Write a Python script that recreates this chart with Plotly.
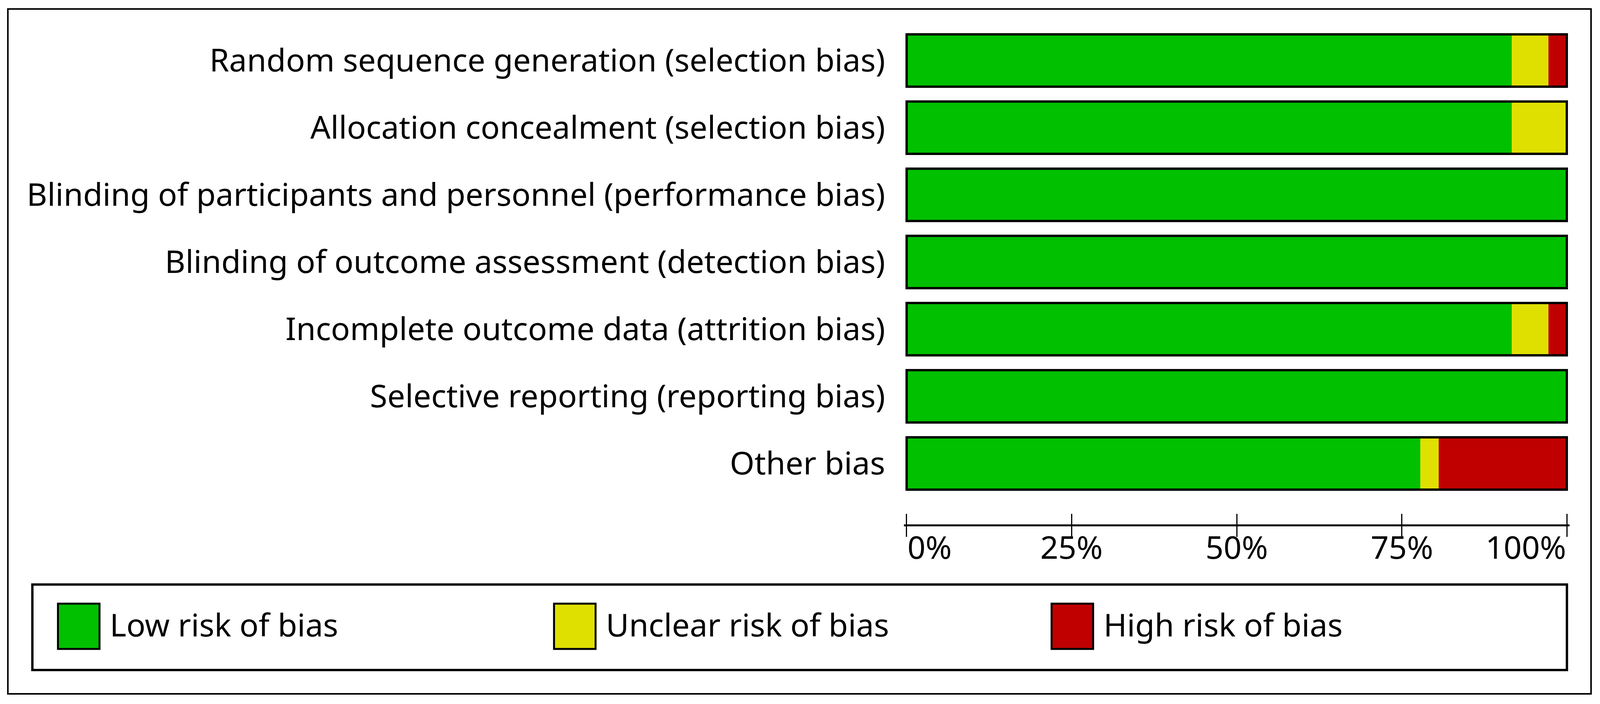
import plotly.graph_objects as go

# risk of bias summary, % of included studies
domains = [
    "Random sequence generation (selection bias)",
    "Allocation concealment (selection bias)",
    "Blinding of participants and personnel (performance bias)",
    "Blinding of outcome assessment (detection bias)",
    "Incomplete outcome data (attrition bias)",
    "Selective reporting (reporting bias)",
    "Other bias",
]
low_risk = [91.67, 91.67, 100, 100, 91.67, 100, 77.78]
unclear_risk = [5.56, 8.33, 0, 0, 5.56, 0, 2.78]
high_risk = [2.78, 0, 0, 0, 2.78, 0, 19.44]

tick_vals = [0, 25, 50, 75, 100]
tick_text = ["0%", "25%", "50%", "75%", "100%"]

legend_names = ["Low risk of bias", "Unclear risk of bias", "High risk of bias"]
legend_colors = ["#00C000", "#E0E000", "#C00000"]

# viewport is 4096x1803 with an 8px body margin; layout measured on a 4311 wide picture
SX = 4096 / 4311
OFF = 8
W, H = 4096 - OFF, 1803 - OFF
FONT = "Noto Sans"
FS = 81


def fx(x):
    return x * SX - OFF


def fy(y):
    return y - OFF


L = fx(2435)
R = W - fx(4229)
T = fy(69)
B = H - fy(1343)


def px(x):
    return (fx(x) - L) / (W - L - R)


def py(y):
    return (H - B - fy(y)) / (H - T - B)


fig = go.Figure()
for name, vals, color in zip(legend_names, [low_risk, unclear_risk, high_risk], legend_colors):
    fig.add_trace(go.Bar(
        y=domains, x=vals, name=name, orientation="h",
        marker=dict(color=color, line=dict(width=0)),
        width=0.78, showlegend=False,
    ))

# black outline round each whole bar
totals = [a + b + c for a, b, c in zip(low_risk, unclear_risk, high_risk)]
fig.add_trace(go.Bar(
    y=domains, x=totals, orientation="h", xaxis="x2", yaxis="y2",
    marker=dict(color="rgba(0,0,0,0)", line=dict(width=6, color="black")),
    width=0.78, showlegend=False, hoverinfo="skip",
))

yax = dict(type="category", categoryorder="array", categoryarray=domains,
           range=[6.907, -0.5], showgrid=False, zeroline=False, ticks="",
           showline=False)
fig.update_layout(
    width=W, height=H,
    margin=dict(l=L, r=R, t=T, b=B),
    plot_bgcolor="white", paper_bgcolor="white",
    barmode="stack",
    font=dict(family=FONT, size=FS, color="black"),
    xaxis=dict(range=[-0.4, 100.4], tickvals=tick_vals, showticklabels=False,
               ticks="outside", ticklen=27, tickwidth=3, tickcolor="black",
               showline=True, linewidth=5, linecolor="black",
               showgrid=False, zeroline=False),
    xaxis2=dict(range=[-0.4, 100.4], overlaying="x", anchor="y2", side="bottom",
                tickvals=tick_vals, showticklabels=False, ticks="inside",
                ticklen=27, tickwidth=3, tickcolor="black",
                showline=False, showgrid=False, zeroline=False),
    yaxis=dict(**yax, ticklabelstandoff=47),
    yaxis2=dict(**yax, overlaying="y", anchor="x2", showticklabels=False),
)

# x tick labels: end ones aligned to the bar edges
for i, (v, t) in enumerate(zip(tick_vals, tick_text)):
    anchor = "left" if i == 0 else ("right" if i == len(tick_vals) - 1 else "center")
    fig.add_annotation(x=v, xref="x", y=py(1342), yref="paper", text=t,
                       showarrow=False, xanchor=anchor, yanchor="top",
                       font=dict(size=FS))

# outer frame and legend box
fig.add_shape(type="rect", xref="paper", yref="paper",
              x0=px(20), x1=px(4287), y0=py(1777), y1=py(23),
              line=dict(color="black", width=4), layer="below")
fig.add_shape(type="rect", xref="paper", yref="paper",
              x0=px(86), x1=px(4222), y0=py(1716), y1=py(1497),
              line=dict(color="black", width=6))

swatch_left = [155, 1492, 2833]
for name, color, sx in zip(legend_names, legend_colors, swatch_left):
    fig.add_shape(type="rect", xref="paper", yref="paper",
                  x0=px(sx), x1=px(sx + 112), y0=py(1662), y1=py(1546),
                  fillcolor=color, line=dict(color="black", width=5))
    fig.add_annotation(x=px(sx + 138), xref="paper", y=py(1598), yref="paper",
                       text=name, showarrow=False, xanchor="left",
                       yanchor="middle", font=dict(size=FS))

fig.write_html("out.html")
